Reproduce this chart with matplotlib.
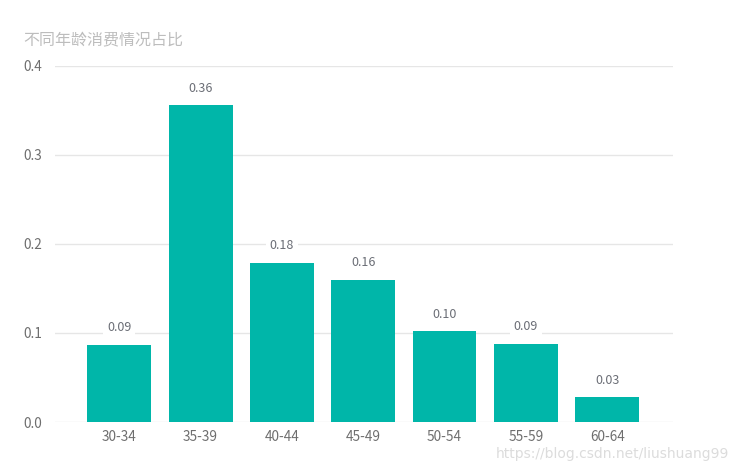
import matplotlib
matplotlib.use("Agg")
import matplotlib.pyplot as plt

plt.rcParams['font.family'] = ['Noto Sans CJK SC', 'DejaVu Sans']

# data
age_groups = ['30-34', '35-39', '40-44', '45-49', '50-54', '55-59', '60-64']
share = [0.087, 0.356, 0.179, 0.160, 0.102, 0.088, 0.028]
y_ticks = [0.0, 0.1, 0.2, 0.3, 0.4]
title = '不同年龄消费情况占比'

fig = plt.figure(figsize=(7.39, 4.71), dpi=100)
ax = fig.add_axes([0.0744, 0.104, 0.8363, 0.756])

x = range(len(age_groups))
ax.bar(x, share, width=0.787, color='#00b6a9', zorder=2)

for i, v in zip(x, share):
    ax.annotate(f'{v:.2f}', (i, v), xytext=(0, 7.5), textcoords='offset points',
                ha='center', va='bottom', fontsize=9, color='#6b6e76', zorder=4,
                bbox=dict(boxstyle='square,pad=0.3', fc='white', ec='none'))

ax.set_xlim(-0.79, 6.81)
ax.set_ylim(0, 0.4)
ax.set_yticks(y_ticks)
ax.set_yticklabels([f'{t:.1f}' for t in y_ticks])
ax.set_xticks(list(x))
ax.set_xticklabels(age_groups)
ax.tick_params(length=0, labelsize=9.8, labelcolor='#6e6e6e')
ax.tick_params(axis='y', pad=9.5)
ax.tick_params(axis='x', pad=6)
ax.grid(axis='y', color='#e6e6e6', linewidth=1, zorder=0)
ax.set_axisbelow(True)
for s in ax.spines.values():
    s.set_visible(False)

fig.text(23 / 739, 1 - 40 / 471, title, fontsize=11.5, color='#bdbdbd', va='center', ha='left')
fig.text(729 / 739, 1 - 454 / 471, 'https://blog.csdn.net/liushuang99', fontsize=10,
         color='#dcdcdc', va='center', ha='right', family=['DejaVu Sans'])

fig.savefig('out.png', dpi=100)
